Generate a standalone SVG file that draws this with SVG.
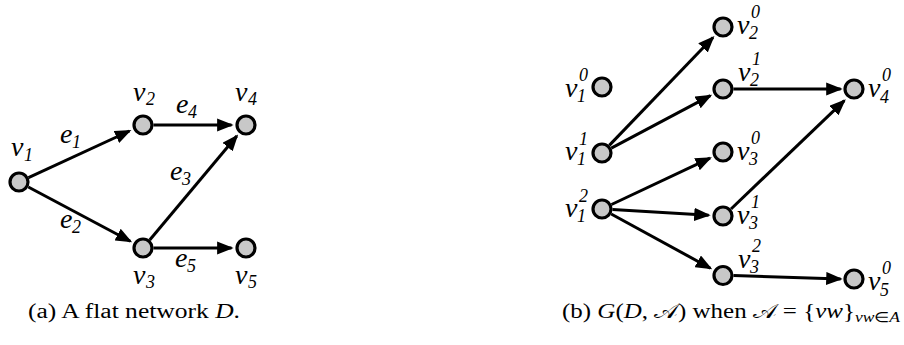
<svg xmlns="http://www.w3.org/2000/svg" width="904" height="345" viewBox="0 0 904 345">
<style>
.n{fill:#c8c8c8;stroke:#000;stroke-width:3.2}
.e{fill:none;stroke:#000;stroke-width:3;marker-end:url(#ah)}
.v{font-family:"Liberation Serif","Times New Roman",serif;font-style:italic;font-size:28px;fill:#000}
.s{font-family:"Liberation Serif","Times New Roman",serif;font-style:italic;font-size:18px;fill:#000}
.c{font-family:"Liberation Serif","Times New Roman",serif;font-size:20px;fill:#000}
</style>
<defs>
<marker id="ah" markerWidth="5.5" markerHeight="4.4" refX="4.8" refY="2.2" orient="auto" markerUnits="strokeWidth">
<path d="M0,0 L5.5,2.2 L0,4.4 z" fill="#000"/>
</marker>
</defs>
<rect width="904" height="345" fill="#fff"/>
<g id="connectors">
<path class="e" d="M28.5,177.6 L129.5,131"/>
<path class="e" d="M28.3,187 L130.3,241.3"/>
<path class="e" d="M153.5,125 L231.5,125"/>
<path class="e" d="M149.7,240 L236.8,136"/>
<path class="e" d="M153.5,248 L231.5,248"/>
<path class="e" d="M609.3,145.4 L713,37.5"/>
<path class="e" d="M611.3,148.1 L710.3,95.7"/>
<path class="e" d="M611.5,204.5 L710,158.1"/>
<path class="e" d="M612.5,209.6 L708.6,215.2"/>
<path class="e" d="M611.2,214 L710.4,268.2"/>
<path class="e" d="M733.5,89 L840.6,89"/>
<path class="e" d="M731,209 L844.3,100.6"/>
<path class="e" d="M733.5,275.5 L840.6,279"/>
</g>
<g id="edge-labels">
<text class="v" x="60" y="143">e</text><text class="s" x="72" y="148">1</text>
<text class="v" x="60" y="228">e</text><text class="s" x="72" y="233">2</text>
<text class="v" x="170" y="180">e</text><text class="s" x="182" y="185">3</text>
<text class="v" x="176" y="113">e</text><text class="s" x="188" y="118">4</text>
<text class="v" x="175" y="267">e</text><text class="s" x="187" y="272">5</text>
</g>
<g id="v1"><circle class="n" cx="19" cy="182" r="9"/><text class="v" x="11" y="156">v</text><text class="s" x="24" y="161">1</text></g>
<g id="v2"><circle class="n" cx="143" cy="125" r="9"/><text class="v" x="133" y="101">v</text><text class="s" x="146" y="105">2</text></g>
<g id="v3"><circle class="n" cx="143" cy="248" r="9"/><text class="v" x="133" y="284">v</text><text class="s" x="146" y="288">3</text></g>
<g id="v4"><circle class="n" cx="246" cy="125" r="9"/><text class="v" x="235" y="101">v</text><text class="s" x="248" y="105">4</text></g>
<g id="v5"><circle class="n" cx="246" cy="248" r="9"/><text class="v" x="235" y="284">v</text><text class="s" x="248" y="288">5</text></g>
<g id="v1-0"><circle class="n" cx="602" cy="87" r="9"/><text class="v" x="565" y="97">v</text><text class="s" x="579" y="81">0</text><text class="s" x="577" y="102">1</text></g>
<g id="v1-1"><circle class="n" cx="602" cy="153" r="9"/><text class="v" x="565" y="160">v</text><text class="s" x="579" y="145">1</text><text class="s" x="577" y="165">1</text></g>
<g id="v1-2"><circle class="n" cx="602" cy="209" r="9"/><text class="v" x="565" y="217">v</text><text class="s" x="579" y="202">2</text><text class="s" x="577" y="222">1</text></g>
<g id="v2-0"><circle class="n" cx="723" cy="27" r="9"/><text class="v" x="737" y="34">v</text><text class="s" x="751" y="18">0</text><text class="s" x="749" y="39">2</text></g>
<g id="v2-1"><circle class="n" cx="723" cy="89" r="9"/><text class="v" x="738" y="81">v</text><text class="s" x="752" y="65">1</text><text class="s" x="750" y="86">2</text></g>
<g id="v3-0"><circle class="n" cx="723" cy="152" r="9"/><text class="v" x="737" y="160">v</text><text class="s" x="751" y="144">0</text><text class="s" x="749" y="165">3</text></g>
<g id="v3-1"><circle class="n" cx="723" cy="216" r="9"/><text class="v" x="737" y="224">v</text><text class="s" x="751" y="208">1</text><text class="s" x="749" y="229">3</text></g>
<g id="v3-2"><circle class="n" cx="723" cy="275.5" r="9"/><text class="v" x="738" y="268">v</text><text class="s" x="752" y="252">2</text><text class="s" x="750" y="273">3</text></g>
<g id="v4-0"><circle class="n" cx="854" cy="89" r="9"/><text class="v" x="868" y="97">v</text><text class="s" x="882" y="81">0</text><text class="s" x="880" y="103">4</text></g>
<g id="v5-0"><circle class="n" cx="854" cy="279" r="9"/><text class="v" x="868" y="290">v</text><text class="s" x="882" y="274">0</text><text class="s" x="880" y="296">5</text></g>
<g id="captions">
<text class="c" x="28" y="318" textLength="212" lengthAdjust="spacingAndGlyphs">(a) A flat network <tspan font-style="italic">D</tspan>.</text>
<text class="c" x="562" y="318" textLength="338" lengthAdjust="spacingAndGlyphs">(b) <tspan font-style="italic">G</tspan>(<tspan font-style="italic">D</tspan>, 𝒜) when 𝒜 = {<tspan font-style="italic">vw</tspan>}<tspan font-style="italic" font-size="14" dy="4">vw</tspan><tspan font-size="14">∈</tspan><tspan font-style="italic" font-size="14">A</tspan></text>
</g>
</svg>
